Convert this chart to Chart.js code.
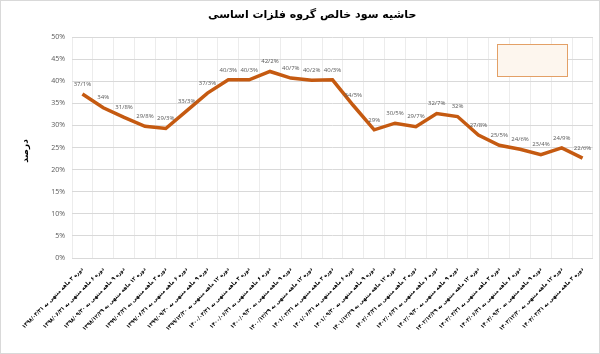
<!DOCTYPE html>
<html>
<head>
<meta charset="utf-8">
<script src="https://cdn.jsdelivr.net/npm/chart.js@4"></script>
<style>
html,body{margin:0;padding:0;background:#fff;}
canvas{display:block;}
</style>
</head>
<body>
<canvas id="c" width="600" height="354"></canvas>
<script>
const chartTitle = 'حاشیه سود خالص گروه فلزات اساسی';
const yAxisTitle = 'درصد';
const categories = [
  'دوره ۳ ماهه منتهی به ۱۳۹۸/۰۳/۳۱',
  'دوره ۶ ماهه منتهی به ۱۳۹۸/۰۶/۳۱',
  'دوره ۹ ماهه منتهی به ۱۳۹۸/۰۹/۳۰',
  'دوره ۱۲ ماهه منتهی به ۱۳۹۸/۱۲/۲۹',
  'دوره ۳ ماهه منتهی به ۱۳۹۹/۰۳/۳۱',
  'دوره ۶ ماهه منتهی به ۱۳۹۹/۰۶/۳۱',
  'دوره ۹ ماهه منتهی به ۱۳۹۹/۰۹/۳۰',
  'دوره ۱۲ ماهه منتهی به ۱۳۹۹/۱۲/۳۰',
  'دوره ۳ ماهه منتهی به ۱۴۰۰/۰۳/۳۱',
  'دوره ۶ ماهه منتهی به ۱۴۰۰/۰۶/۳۱',
  'دوره ۹ ماهه منتهی به ۱۴۰۰/۰۹/۳۰',
  'دوره ۱۲ ماهه منتهی به ۱۴۰۰/۱۲/۲۹',
  'دوره ۳ ماهه منتهی به ۱۴۰۱/۰۳/۳۱',
  'دوره ۶ ماهه منتهی به ۱۴۰۱/۰۶/۳۱',
  'دوره ۹ ماهه منتهی به ۱۴۰۱/۰۹/۳۰',
  'دوره ۱۲ ماهه منتهی به ۱۴۰۱/۱۲/۲۹',
  'دوره ۳ ماهه منتهی به ۱۴۰۲/۰۳/۳۱',
  'دوره ۶ ماهه منتهی به ۱۴۰۲/۰۶/۳۱',
  'دوره ۹ ماهه منتهی به ۱۴۰۲/۰۹/۳۰',
  'دوره ۱۲ ماهه منتهی به ۱۴۰۲/۱۲/۲۹',
  'دوره ۳ ماهه منتهی به ۱۴۰۳/۰۳/۳۱',
  'دوره ۶ ماهه منتهی به ۱۴۰۳/۰۶/۳۱',
  'دوره ۹ ماهه منتهی به ۱۴۰۳/۰۹/۳۰',
  'دوره ۱۲ ماهه منتهی به ۱۴۰۳/۱۲/۳۰',
  'دوره ۳ ماهه منتهی به ۱۴۰۴/۰۳/۳۱'
];
const netMargin = [37.1, 34, 31.8, 29.8, 29.3, 33.3, 37.3, 40.3, 40.3, 42.2, 40.7, 40.2, 40.3, 34.5, 29, 30.5, 29.7, 32.7, 32, 27.8, 25.5, 24.6, 23.4, 24.9, 22.6];
const dataLabels = ['37/1%', '34%', '31/8%', '29/8%', '29/3%', '33/3%', '37/3%', '40/3%', '40/3%', '42/2%', '40/7%', '40/2%', '40/3%', '34/5%', '29%', '30/5%', '29/7%', '32/7%', '32%', '27/8%', '25/5%', '24/6%', '23/4%', '24/9%', '22/6%'];
const yTicks = [0, 5, 10, 15, 20, 25, 30, 35, 40, 45, 50];

const decorPlugin = {
  id: 'decor',
  beforeDraw(chart) {
    const ctx = chart.ctx;
    ctx.save();
    ctx.fillStyle = '#fff';
    ctx.fillRect(0, 0, chart.width, chart.height);
    ctx.restore();
  },
  afterDatasetsDraw(chart) {
    const ctx = chart.ctx;
    const meta = chart.getDatasetMeta(0);
    ctx.save();
    ctx.font = '6px "Open Sans", "DejaVu Sans", sans-serif';
    ctx.fillStyle = '#595959';
    ctx.textAlign = 'center';
    ctx.textBaseline = 'middle';
    meta.data.forEach((pt, i) => {
      ctx.fillText(dataLabels[i], pt.x, pt.y - 10);
    });
    ctx.restore();
  },
  afterDraw(chart) {
    const ctx = chart.ctx;
    ctx.save();
    // title
    ctx.font = 'bold 11px "DejaVu Sans", sans-serif';
    ctx.fillStyle = '#000';
    ctx.textAlign = 'left';
    ctx.textBaseline = 'middle';
    ctx.fillText(chartTitle, 208, 15);
    // y axis title
    ctx.translate(26, 151);
    ctx.rotate(-Math.PI / 2);
    ctx.textAlign = 'center';
    ctx.font = 'bold 9px "DejaVu Sans", sans-serif';
    ctx.fillText(yAxisTitle, 0, 0);
    ctx.restore();
    // logo frame
    ctx.save();
    ctx.fillStyle = '#fdf6ee';
    ctx.fillRect(497, 44, 71, 33);
    ctx.strokeStyle = '#e3a066';
    ctx.lineWidth = 1;
    ctx.strokeRect(497.5, 44.5, 70, 32);
    ctx.restore();
    // outer border
    ctx.save();
    ctx.strokeStyle = '#d9d9d9';
    ctx.lineWidth = 1;
    ctx.strokeRect(0.5, 0.5, chart.width - 1, chart.height - 1);
    ctx.restore();
  }
};

new Chart(document.getElementById('c'), {
  type: 'line',
  data: {
    labels: categories,
    datasets: [{
      data: netMargin,
      borderColor: '#c55a11',
      borderWidth: 3.5,
      pointRadius: 0,
      tension: 0,
      fill: false
    }]
  },
  options: {
    responsive: false,
    animation: false,
    devicePixelRatio: 1,
    layout: { padding: { top: 37, right: 7, left: 0, bottom: 0 } },
    plugins: { legend: { display: false }, tooltip: { enabled: false }, title: { display: false } },
    scales: {
      x: {
        offset: true,
        grid: { offset: true, color: '#ececec', lineWidth: 1, drawTicks: false },
        border: { display: false },
        ticks: {
          autoSkip: false,
          maxRotation: 45,
          minRotation: 45,
          padding: 8,
          color: '#000',
          font: { family: '"DejaVu Sans Condensed", "DejaVu Sans", sans-serif', size: 5.6, weight: 'bold' }
        },
        afterFit(scale) { scale.height = 96; }
      },
      y: {
        min: 0,
        max: 50,
        afterBuildTicks(scale) { scale.ticks = yTicks.map(v => ({ value: v })); },
        grid: { color: '#d9d9d9', lineWidth: 1, drawTicks: false },
        border: { display: false },
        ticks: {
          padding: 7,
          color: '#595959',
          font: { family: '"Open Sans", "DejaVu Sans", sans-serif', size: 7 },
          callback: v => v + '%'
        },
        afterFit(scale) { scale.width = 72; }
      }
    }
  },
  plugins: [decorPlugin]
});
</script>
</body>
</html>
